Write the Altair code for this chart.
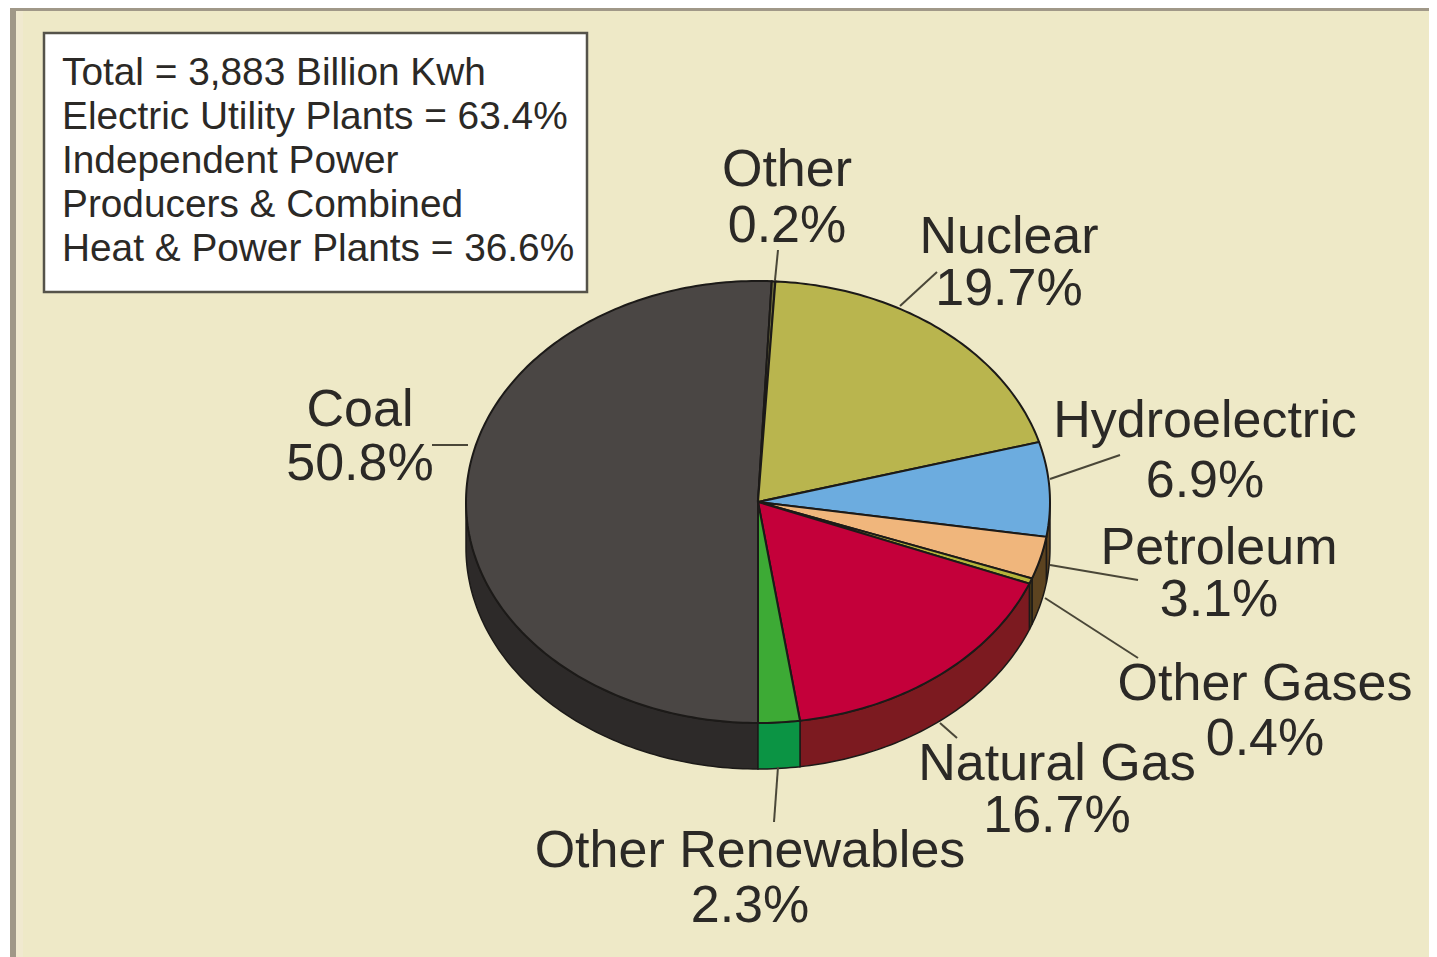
import math
import altair as alt
import pandas as pd

# ---- values ----
categories = ["Coal", "Other", "Nuclear", "Hydroelectric", "Petroleum",
              "Other Gases", "Natural Gas", "Other Renewables"]
shares = [50.8, 0.2, 19.7, 6.9, 3.1, 0.4, 16.7, 2.3]
top_colors = ["#4A4644", "#6B6A3A", "#B9B54E", "#6CACDF", "#F0B67C",
              "#B5B53A", "#C4003A", "#3DAA35"]
side_colors = ["#2D2A29", "#2D2A29", "#6F6D2E", "#5C4320", "#5C4320",
               "#4A3A18", "#7C1A20", "#0B9444"]
info_lines = ["Total = 3,883 Billion Kwh", "Electric Utility Plants = 63.4%",
              "Independent Power", "Producers & Combined",
              "Heat & Power Plants = 36.6%"]

# ---- layout (chart pixels) ----
W, H = 1421, 949
CX, CY, RX, RY, DEPTH = 750, 494, 292, 221, 46
BG = "#EEE9C7"
INK = "#2B2926"
# label: centre x, first baseline, line height
label_layout = {
    "Coal": (352, 418, 54),
    "Other": (779, 178, 56),
    "Nuclear": (1001, 245, 52),
    "Hydroelectric": (1197, 429, 60),
    "Petroleum": (1211, 556, 52),
    "Other Gases": (1257, 692, 55),
    "Natural Gas": (1049, 772, 52),
    "Other Renewables": (742, 859, 55),
}
leaders = {
    "Coal": (424, 437, 460, 437),
    "Other": (770, 242, 767, 272),
    "Nuclear": (929, 264, 892, 298),
    "Hydroelectric": (1112, 447, 1042, 471),
    "Petroleum": (1130, 572, 1042, 557),
    "Other Gases": (1130, 650, 1037, 590),
    "Natural Gas": (932, 715, 949, 730),
    "Other Renewables": (770, 759, 766, 814),
}


def pt(deg, dy=0.0):
    r = math.radians(deg)
    return [CX + RX * math.sin(r), CY - RY * math.cos(r) + dy]


def arc_degs(a, b):
    n = max(2, int(abs(b - a)) + 2)
    return [a + (b - a) * i / (n - 1) for i in range(n)]


total = sum(shares)
tops, sides = [], []
a0 = 180.0
for cat, s in zip(categories, shares):
    a1 = a0 + 360.0 * s / total
    ring = [[CX, CY]] + [pt(d) for d in arc_degs(a0, a1)] + [[CX, CY]]
    tops.append({"type": "Feature", "properties": {"category": cat},
                 "geometry": {"type": "Polygon", "coordinates": [ring]}})
    # the front of the pie runs from 90 to 270 degrees, on either turn of the circle
    for shift in (0.0, 360.0):
        lo, hi = max(a0, 90.0 + shift), min(a1, 270.0 + shift)
        if hi > lo:
            ds = arc_degs(lo, hi)
            wall = [pt(d) for d in ds] + [pt(d, DEPTH) for d in reversed(ds)]
            wall.append(wall[0])
            sides.append({"type": "Feature", "properties": {"category": cat},
                          "geometry": {"type": "Polygon", "coordinates": [wall]}})
    a0 = a1

proj = alt.Projection(type="identity", scale=1, translate=[0, 0])


def geo(features, colors, sw):
    return alt.Chart(alt.InlineData(
        values={"type": "FeatureCollection", "features": features},
        format=alt.DataFormat(type="json", property="features"),
    )).mark_geoshape(stroke="#1C1A18", strokeWidth=sw).encode(
        color=alt.Color("properties.category:N",
                        scale=alt.Scale(domain=categories, range=colors),
                        legend=None)
    ).project(**proj.to_dict())


def rect(x, x2, y, y2, fill, **kw):
    return alt.Chart(pd.DataFrame({"r": [0]})).mark_rect(fill=fill, **kw).encode(
        x=alt.value(x), x2=alt.value(x2), y=alt.value(y), y2=alt.value(y2))


layers = [
    rect(0, 2, 0, H, "#FFFFFF"),
    rect(2, 8, 0, H, "#A09888"),
    rect(2, W, 0, 3, "#A09888"),
    rect(8, 15, 3, H, "#F0E9CF"),
    rect(36, 579, 25, 284, "#FFFFFF", stroke="#55534A", strokeWidth=2.5),
    alt.Chart(pd.DataFrame({"t": ["\n".join(info_lines)]})).mark_text(
        align="left", baseline="alphabetic", font="Liberation Sans",
        fontSize=38.8, lineBreak="\n", lineHeight=44, color=INK,
    ).encode(x=alt.value(54), y=alt.value(77), text="t:N"),
    geo(sides, side_colors, 1.5),
    geo(tops, top_colors, 2),
]

for cat, s in zip(categories, shares):
    x1, y1, x2, y2 = leaders[cat]
    layers.append(
        alt.Chart(pd.DataFrame({"c": [cat]})).mark_rule(color="#4A4738", strokeWidth=2).encode(
            x=alt.value(x1), y=alt.value(y1), x2=alt.value(x2), y2=alt.value(y2))
    )
    lx, ly, lh = label_layout[cat]
    layers.append(
        alt.Chart(pd.DataFrame({"t": [f"{cat}\n{s}%"]})).mark_text(
            align="center", baseline="alphabetic", font="Liberation Sans",
            fontSize=52, lineBreak="\n", lineHeight=lh, color=INK,
        ).encode(x=alt.value(lx), y=alt.value(ly), text="t:N")
    )

chart = alt.layer(*layers).resolve_scale(color="independent").properties(
    width=W, height=H, padding=0, background=BG,
    autosize=alt.AutoSizeParams(type="none"),
).configure_view(stroke=None)

chart.save("out.html", embed_options={"renderer": "svg", "actions": False})
